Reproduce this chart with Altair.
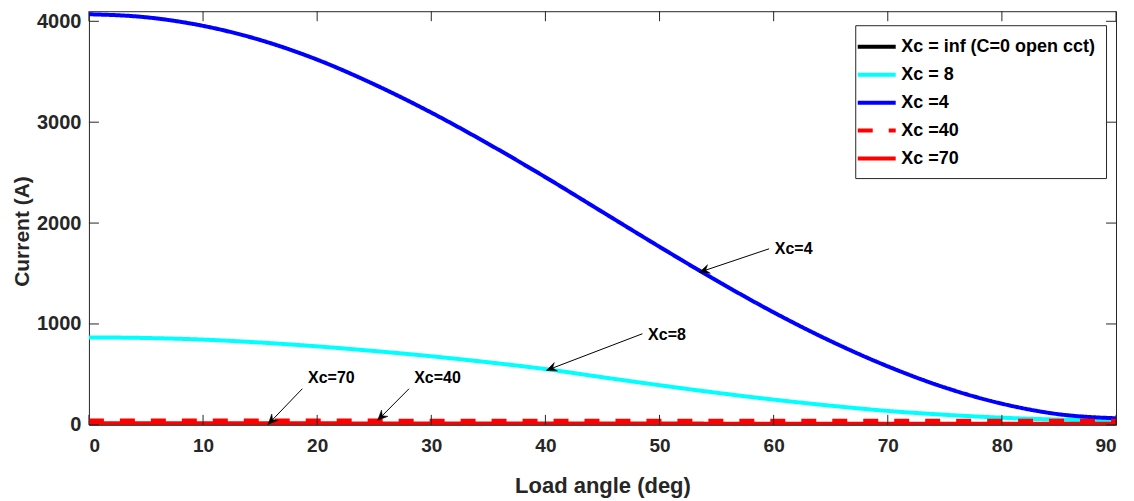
import math
import altair as alt
import pandas as pd

# ---------------- data ----------------
angle = [0, 5, 10, 15, 20, 25, 30, 35, 40, 45, 50, 55, 60, 65, 70, 75, 80, 85, 90]
xc_inf = [0, 0, 0, 0, 0, 0, 0, 0, 0, 0, 0, 0, 0, 0, 0, 0, 0, 0, 0]
xc_8 = [867, 861, 845, 816, 778, 732, 680, 620, 553, 472, 393, 318, 250, 190, 138, 100, 71, 52, 42]
xc_4 = [4070, 4040, 3955, 3815, 3620, 3375, 3095, 2785, 2455, 2110, 1765, 1430, 1115, 830, 580, 370, 210, 105, 65]
xc_40 = [42, 42, 42, 42, 42, 42, 41, 41, 41, 41, 40, 40, 40, 40, 40, 40, 40, 40, 40]
xc_70 = [15, 15, 15, 15, 15, 14, 14, 14, 13, 13, 13, 12, 12, 12, 11, 11, 11, 10, 10]

series_names = ["Xc = inf (C=0 open cct)", "Xc = 8", "Xc =4", "Xc =40", "Xc =70"]
series_values = [xc_inf, xc_8, xc_4, xc_40, xc_70]
series_colors = ["#000000", "#00FFFF", "#0000FF", "#FF0000", "#FF0000"]
series_dash = [[1, 0], [1, 0], [1, 0], [15, 16], [1, 0]]

x_ticks = [0, 10, 20, 30, 40, 50, 60, 70, 80, 90]
y_ticks = [0, 1000, 2000, 3000, 4000]

ann_text = ["Xc=4", "Xc=8", "Xc=70", "Xc=40"]
ann_text_x = [60.1, 49.0, 19.2, 28.5]
ann_text_y = [1740, 886, 467, 467]
ann_tail_x = [59.6, 48.5, 18.7, 28.05]
ann_tail_y = [1745, 903, 358, 358]
ann_head_x = [53.5, 40.1, 15.7, 25.3]
ann_head_y = [1513, 540, 5, 45]

# ---------------- layout constants ----------------
W, H = 1028, 414
X_MAX, Y_MAX = 90, 4100
FONT = "Liberation Sans"
AX = "#262626"

rows = []
for name, vals in zip(series_names, series_values):
    for a, v in zip(angle, vals):
        rows.append({"angle": a, "current": v, "series": name})
df = pd.DataFrame(rows)

xscale = alt.Scale(domain=[0, X_MAX], nice=False, zero=False)
yscale = alt.Scale(domain=[0, Y_MAX], nice=False, zero=False)
xaxis = alt.Axis(values=x_ticks, title="Load angle (deg)", domain=False, ticks=False, grid=False,
                 labelFont=FONT, labelFontSize=19, labelFontWeight="bold", labelColor=AX,
                 labelPadding=12, titleFont=FONT, titleFontSize=22, titleFontWeight="bold",
                 titleColor=AX, titlePadding=20)
yaxis = alt.Axis(values=y_ticks, format="d", title="Current (A)", domain=False, ticks=False, grid=False,
                 labelFont=FONT, labelFontSize=20, labelFontWeight="bold", labelColor=AX,
                 labelPadding=8, titleFont=FONT, titleFontSize=21, titleFontWeight="bold",
                 titleColor=AX, titlePadding=4, titleY=220)


def X(field):
    return alt.X(field, type="quantitative", scale=xscale, axis=xaxis)


def Y(field):
    return alt.Y(field, type="quantitative", scale=yscale, axis=yaxis)


lines = alt.Chart(df).mark_line(strokeWidth=4, clip=True, interpolate="monotone", strokeCap="butt").encode(
    x=X("angle"),
    y=Y("current"),
    color=alt.Color("series:N", sort=series_names,
                    scale=alt.Scale(domain=series_names, range=series_colors), title=None),
    strokeDash=alt.StrokeDash("series:N", sort=series_names,
                              scale=alt.Scale(domain=series_names, range=series_dash), title=None),
)

xt = pd.DataFrame({"t": x_ticks})
yt = pd.DataFrame({"t": y_ticks})
tick_b = alt.Chart(xt).mark_rule(color=AX, strokeWidth=1).encode(x=X("t"), y=alt.value(H), y2=alt.value(H - 10))
tick_t = alt.Chart(xt).mark_rule(color=AX, strokeWidth=1).encode(x=X("t"), y=alt.value(0), y2=alt.value(10))
tick_l = alt.Chart(yt).mark_rule(color=AX, strokeWidth=1).encode(y=Y("t"), x=alt.value(0), x2=alt.value(10))
tick_r = alt.Chart(yt).mark_rule(color=AX, strokeWidth=1).encode(y=Y("t"), x=alt.value(W), x2=alt.value(W - 10))

ann_angles = []
for tx, ty, hx, hy in zip(ann_tail_x, ann_tail_y, ann_head_x, ann_head_y):
    dx = (hx - tx) * W / X_MAX
    dy = -(hy - ty) * H / Y_MAX
    ann_angles.append(math.degrees(math.atan2(dy, dx)) % 360)

adf = pd.DataFrame({"label": ann_text, "tx": ann_text_x, "ty": ann_text_y,
                    "ax": ann_tail_x, "ay": ann_tail_y, "hx": ann_head_x, "hy": ann_head_y,
                    "ang": ann_angles})

ann_lines = alt.Chart(adf).mark_rule(color="black", strokeWidth=1).encode(
    x=X("ax"), y=Y("ay"), x2="hx", y2="hy")
ann_heads = alt.Chart(adf).mark_point(
    shape="M 0 0 L -1 -0.45 L -0.65 0 L -1 0.45 Z", filled=True, fill="black", stroke="black",
    strokeWidth=0.5, opacity=1, size=400).encode(
    x=X("hx"), y=Y("hy"), angle=alt.Angle("ang:Q", scale=None))
ann_texts = alt.Chart(adf).mark_text(align="left", baseline="middle", font=FONT, fontSize=16,
                                      fontWeight="bold", color="black").encode(
    x=X("tx"), y=Y("ty"), text="label:N")

chart = alt.layer(lines, tick_b, tick_t, tick_l, tick_r, ann_lines, ann_heads, ann_texts).properties(
    width=W, height=H,
    autosize=alt.AutoSizeParams(type="none"),
    padding={"left": 81, "top": 3, "right": 10, "bottom": 76},
    background="white",
).configure_view(
    stroke=AX, strokeWidth=1
).configure_legend(
    orient="none", legendX=767, legendY=14,
    symbolType="M -2 0 L 2 0", symbolSize=361, symbolStrokeWidth=4, symbolFillColor="transparent",
    labelFont=FONT, labelFontSize=18, labelFontWeight="bold", labelColor="black", labelLimit=400,
    labelOffset=13, strokeColor="#262626", fillColor="white", padding=10, rowPadding=7,
    cornerRadius=0,
)

chart.save("out.html", embed_options={"renderer": "svg", "actions": False})
